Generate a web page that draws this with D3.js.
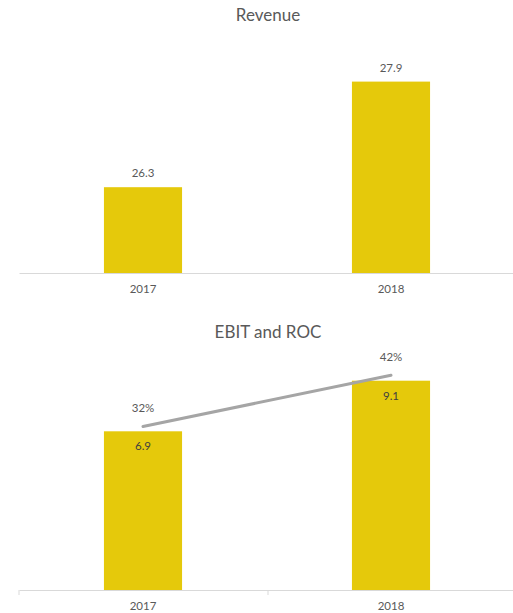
<!DOCTYPE html>
<html>
<head>
<meta charset="utf-8">
<script src="https://cdn.jsdelivr.net/npm/d3@7"></script>
<style>
  body { margin: 0; background: #fff; }
  text { font-family: Lato, "Open Sans", sans-serif; fill: #595959; }
</style>
</head>
<body>
<div id="chart"></div>
<script>
// data
const years = ['2017', '2018'];
const revenue = [26.3, 27.9];
const ebit = [6.9, 9.1];
const roc = [0.32, 0.42];

const width = 513, height = 613;
const barColor = '#E5C90B';
const lineColor = '#A5A5A5';
const axisColor = '#D9D9D9';

const svg = d3.select('#chart')
    .append('svg')
    .attr('width', width)
    .attr('height', height);

const x = d3.scaleBand()
    .domain(years)
    .range([19, 515])
    .paddingInner(0.685)
    .paddingOuter(0.3425);

// ---- Revenue ----
const yRev = d3.scaleLinear()
    .domain([25, 28.5])
    .range([273, 42]);

const revG = svg.append('g');

revG.append('text')
    .attr('x', 268)
    .attr('y', 21)
    .attr('text-anchor', 'middle')
    .style('font-size', '17px')
    .text('Revenue');

revG.selectAll('rect.bar')
    .data(revenue)
    .join('rect')
    .attr('class', 'bar')
    .attr('x', (d, i) => x(years[i]))
    .attr('width', x.bandwidth())
    .attr('y', d => yRev(d))
    .attr('height', d => yRev(25) - yRev(d))
    .attr('fill', barColor);

revG.selectAll('text.lbl')
    .data(revenue)
    .join('text')
    .attr('class', 'lbl')
    .attr('x', (d, i) => x(years[i]) + x.bandwidth() / 2)
    .attr('y', d => yRev(d) - 10)
    .attr('text-anchor', 'middle')
    .style('font-size', '11.5px')
    .text(d => d.toFixed(1));

const axRev = revG.append('g')
    .attr('transform', 'translate(0,273)')
    .call(d3.axisBottom(x).tickSize(0).tickPadding(12));
axRev.select('.domain').attr('stroke', axisColor).attr('stroke-width', 1.2);
axRev.selectAll('text').style('font-size', '11.5px').style('font-family', 'Lato, sans-serif').attr('fill', '#595959');

// ---- EBIT and ROC ----
const yEbit = d3.scaleLinear()
    .domain([0, 10])
    .range([590, 360]);
const yRoc = d3.scaleLinear()
    .domain([0, 0.45])
    .range([590, 360]);

const ebitG = svg.append('g');

ebitG.append('text')
    .attr('x', 268)
    .attr('y', 338)
    .attr('text-anchor', 'middle')
    .style('font-size', '17px')
    .text('EBIT and ROC');

ebitG.selectAll('rect.bar')
    .data(ebit)
    .join('rect')
    .attr('class', 'bar')
    .attr('x', (d, i) => x(years[i]))
    .attr('width', x.bandwidth())
    .attr('y', d => yEbit(d))
    .attr('height', d => yEbit(0) - yEbit(d))
    .attr('fill', barColor);

ebitG.selectAll('text.lbl')
    .data(ebit)
    .join('text')
    .attr('class', 'lbl')
    .attr('x', (d, i) => x(years[i]) + x.bandwidth() / 2)
    .attr('y', d => yEbit(d) + 19)
    .attr('text-anchor', 'middle')
    .style('font-size', '11.5px')
    .style('fill', '#404040')
    .text(d => d.toFixed(1));

const line = d3.line()
    .x((d, i) => x(years[i]) + x.bandwidth() / 2)
    .y(d => yRoc(d));

ebitG.append('path')
    .datum(roc)
    .attr('d', line)
    .attr('fill', 'none')
    .attr('stroke', lineColor)
    .attr('stroke-width', 3)
    .attr('stroke-linecap', 'round');

ebitG.selectAll('text.roc')
    .data(roc)
    .join('text')
    .attr('class', 'roc')
    .attr('x', (d, i) => x(years[i]) + x.bandwidth() / 2)
    .attr('y', d => yRoc(d) - 14)
    .attr('text-anchor', 'middle')
    .style('font-size', '11.5px')
    .text(d => Math.round(d * 100) + '%');

const axEbit = ebitG.append('g')
    .attr('transform', 'translate(0,590)')
    .call(d3.axisBottom(x).tickSize(0).tickPadding(12));
axEbit.select('.domain').attr('stroke', axisColor).attr('stroke-width', 1.2);
axEbit.selectAll('text').style('font-size', '11.5px').style('font-family', 'Lato, sans-serif').attr('fill', '#595959');

// small category divider ticks
ebitG.selectAll('line.tick')
    .data([19, 268])
    .join('line')
    .attr('class', 'tick')
    .attr('x1', d => d).attr('x2', d => d)
    .attr('y1', 590).attr('y2', 595)
    .attr('stroke', axisColor);
</script>
</body>
</html>
